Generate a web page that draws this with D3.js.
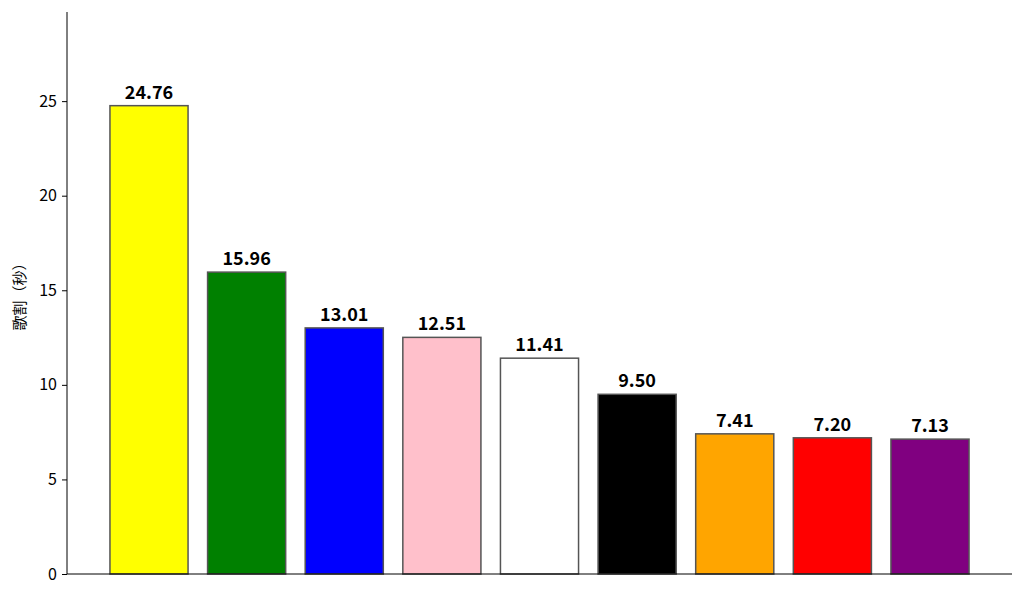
<!DOCTYPE html>
<html>
<head>
<meta charset="utf-8">
<script src="https://cdn.jsdelivr.net/npm/d3@7"></script>
<style>
  body { margin: 0; background: #fff; }
  svg { display: block; font-family: "Noto Sans CJK JP", "Noto Sans", sans-serif; }
</style>
</head>
<body>
<svg id="chart" width="1024" height="598"></svg>
<script>
const members = ["yellow", "green", "blue", "pink", "white", "black", "orange", "red", "purple"];
const seconds = [24.76, 15.96, 13.01, 12.51, 11.41, 9.50, 7.41, 7.20, 7.13];
const barColors = ["#ffff00", "#008000", "#0000ff", "#ffc0cb", "#ffffff", "#000000", "#ffa500", "#ff0000", "#800080"];
const yTicks = [0, 5, 10, 15, 20, 25];

const width = 1024, height = 598;
const margin = {top: 12, right: 12, bottom: 24, left: 67};

const svg = d3.select("#chart");

// matplotlib-style: bars of width 0.8 on integer slots, 5% margins
const n = members.length;
const pad = 0.05 * (n - 1 + 0.8);
const x = d3.scaleLinear()
    .domain([-0.4 - pad, n - 1 + 0.4 + pad])
    .range([margin.left, width - margin.right]);

const y = d3.scaleLinear()
    .domain([0, d3.max(seconds) * 1.2])
    .range([height - margin.bottom, margin.top]);

const bw = x(0.8) - x(0);

svg.append("g")
    .selectAll("rect")
    .data(members)
    .enter().append("rect")
    .attr("x", (d, i) => x(i - 0.4))
    .attr("y", (d, i) => y(seconds[i]))
    .attr("width", bw)
    .attr("height", (d, i) => y(0) - y(seconds[i]))
    .attr("fill", (d, i) => barColors[i])
    .attr("stroke", "#555")
    .attr("stroke-width", 1.5);

svg.append("g")
    .selectAll("text")
    .data(members)
    .enter().append("text")
    .attr("x", (d, i) => x(i))
    .attr("y", (d, i) => y(seconds[i]) - 7)
    .attr("text-anchor", "middle")
    .style("font-size", "18px")
    .style("font-weight", "bold")
    .text((d, i) => seconds[i].toFixed(2));

// y axis
const yAxis = svg.append("g")
    .attr("transform", `translate(${margin.left},0)`)
    .call(d3.axisLeft(y).tickValues(yTicks).tickSize(5).tickPadding(5));
yAxis.selectAll("text").style("font-size", "16px").style("font-family", "'Noto Sans CJK JP', sans-serif").attr("fill", "#000");
yAxis.selectAll("line").attr("stroke", "#000");
yAxis.select(".domain").attr("stroke", "#000").attr("d", `M0,${y(0)}V${margin.top}`);

// x axis line (no labels)
svg.append("line")
    .attr("x1", margin.left).attr("x2", width - margin.right)
    .attr("y1", y(0)).attr("y2", y(0))
    .attr("stroke", "#000");

svg.append("text")
    .attr("transform", `translate(25,${(y(0) + margin.top) / 2}) rotate(-90)`)
    .attr("text-anchor", "middle")
    .style("font-size", "15px")
    .text("歌割（秒）");
</script>
</body>
</html>
